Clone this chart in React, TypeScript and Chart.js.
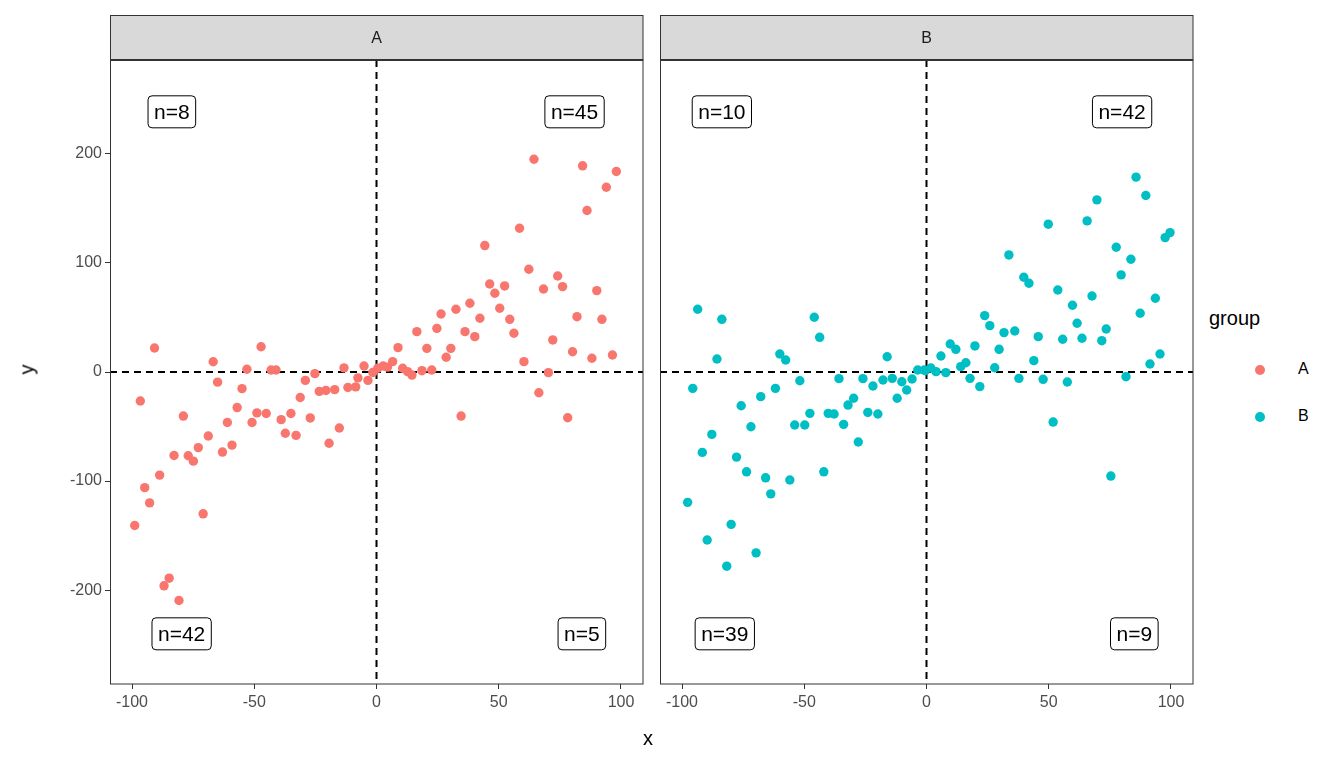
import React, { useEffect, useRef } from "react";
import { Chart, registerables } from "chart.js";
Chart.register(...registerables);

const xA = [-90.8,-96.6,-79.0,-66.8,-65.0,-53.0,-47.2,-43.1,-41.1,-55.0,-57.0,-61.0,-48.9,-45.1,-50.9,-39.0,-35.0,-37.3,-32.9,-29.1,-25.2,-31.2,-27.1,-23.4,-20.7,-17.1,-13.3,-19.4,-15.2,-11.7,-8.5,-5.1,-7.6,-3.5,-68.8,-72.9,-77.0,-74.9,-59.1,-63.0,-82.8,-88.7,-94.8,-92.8,-70.9,-98.9,-84.8,-86.9,-80.8,-1.5,
64.4,84.3,98.1,94.0,86.1,58.5,44.3,62.3,74.1,76.1,68.3,90.1,46.3,48.4,52.4,38.2,32.5,26.4,50.4,42.3,54.5,56.2,82.0,92.2,16.5,24.7,36.2,40.2,72.1,8.8,20.6,30.4,28.5,80.2,96.5,88.1,60.3,70.3,66.4,34.6,78.2,6.6,2.7,0.5,10.7,12.7,14.5,18.6,22.6,4.5];
const yA = [22,-26.6,-40.4,9.4,-9.3,2.5,23.1,1.8,1.8,-15.2,-32.6,-46.3,-37.5,-38,-46.3,-43.7,-38,-56.1,-58.1,-7.7,-1.5,-23.4,-42.1,-17.8,-16.9,-16.2,3.8,-65.3,-51.3,-14.2,-13.6,5.5,-5.4,-7.7,-58.7,-69.3,-76.8,-81.7,-67,-73.4,-76.5,-94.5,-106,-120,-130,-140.7,-189,-196,-209.5,-0.5,
195,189,183.8,169.4,148,131.8,115.9,94.2,88,78.3,76.1,74.6,80.7,72.2,78.9,63,57.5,53.2,58.4,49.3,48.3,35.5,50.7,48.3,37,40,37,32.4,29.4,22.3,21.7,21.7,13.5,18.6,15.6,12.6,9.5,-0.6,-19,-40.4,-41.9,9.5,5.5,3.4,3.4,0.3,-2.8,1.2,1.8,4.5];

const xB = [-93.6,-83.7,-85.7,-95.6,-45.9,-43.7,-60.0,-57.6,-51.8,-35.8,-26.0,-21.9,-17.8,-14.0,-16.1,-10.1,-8.1,-5.9,-12.0,-3.6,-0.9,-61.8,-67.8,-75.8,-71.8,-87.8,-91.7,-77.7,-73.6,-65.8,-63.7,-55.9,-47.7,-53.9,-49.8,-40.2,-37.8,-33.9,-32.1,-29.8,-24.0,-19.9,-27.9,-42.0,-97.7,-79.9,-89.7,-69.7,-81.7,
85.7,89.7,69.7,65.7,49.8,99.6,97.6,77.6,83.6,79.6,33.7,39.8,41.9,53.7,67.7,93.6,59.7,87.4,23.8,25.9,31.7,36.1,61.6,73.5,45.7,55.7,63.6,71.7,19.8,29.7,9.7,12.0,5.9,16.1,14.0,43.9,27.9,95.5,91.4,1.8,3.9,7.9,-0.5,17.8,21.8,37.8,47.7,57.6,81.6,51.8,75.4];
const yB = [57.5,48.3,11.9,-15,50.2,31.8,16.5,11,-8,-6.1,-6.1,-12.8,-7.3,-5.8,14,-8.9,-16.5,-6.4,-24.1,1.8,1.8,-15,-22.6,-30.9,-50.2,-57.2,-73.7,-78,-91.5,-97,-111.7,-99,-37.9,-48.6,-48.6,-37.9,-38.5,-48,-30.3,-24.1,-37,-38.5,-64.2,-91.5,-119.5,-139.7,-154,-165.8,-178,
178.6,161.8,157.8,138.5,135.5,127.8,123.2,114.4,103.4,89,107.3,86.9,81.4,75.2,69.7,67.6,61.2,53.9,51.7,42.5,36.1,37.6,44.7,39.4,32.4,30,30.9,28.7,23.9,20.8,25.7,20.8,14.7,8.5,4.9,10.4,3.9,16.5,7.3,3.7,0.3,-0.6,1.2,-5.8,-13.4,-5.8,-6.7,-9.2,-4.3,-45.9,-95.4];

const nLabelsA = ["n=8", "n=45", "n=42", "n=5"];
const nXA = [-83.7, 81, -79.7, 84];
const nLabelsB = ["n=10", "n=42", "n=39", "n=9"];
const nXB = [-83.7, 80, -82.5, 85];
const nY = [238.5, 238.5, -240, -240];
const xTicks = [-100, -50, 0, 50, 100];
const yTicks = [-200, -100, 0, 100, 200];

const FONT = "'Liberation Sans', Arial, sans-serif";

function rr(ctx: CanvasRenderingContext2D, x: number, y: number, w: number, h: number, r: number) {
  ctx.beginPath();
  ctx.moveTo(x + r, y);
  ctx.arcTo(x + w, y, x + w, y + h, r);
  ctx.arcTo(x + w, y + h, x, y + h, r);
  ctx.arcTo(x, y + h, x, y, r);
  ctx.arcTo(x, y, x + w, y, r);
  ctx.closePath();
}

function makePlugin(title: string, labels: string[], lx: number[]) {
  return {
    id: "facet" + title,
    beforeDatasetsDraw(chart: any) {
      const { ctx, chartArea: a, scales } = chart;
      ctx.save();
      ctx.strokeStyle = "#000";
      ctx.lineWidth = 2;
      ctx.setLineDash([7, 5]);
      const x0 = scales.x.getPixelForValue(0);
      const y0 = scales.y.getPixelForValue(0);
      ctx.beginPath();
      ctx.moveTo(x0, a.top); ctx.lineTo(x0, a.bottom);
      ctx.moveTo(a.left, y0); ctx.lineTo(a.right, y0);
      ctx.stroke();
      ctx.restore();
    },
    afterDatasetsDraw(chart: any) {
      const { ctx, chartArea: a, scales } = chart;
      ctx.save();
      ctx.font = `21px ${FONT}`;
      ctx.textAlign = "center";
      ctx.textBaseline = "middle";
      labels.forEach((t, i) => {
        const cx = scales.x.getPixelForValue(lx[i]);
        const cy = scales.y.getPixelForValue(nY[i]);
        const w = ctx.measureText(t).width + 12;
        const h = 32;
        rr(ctx, cx - w / 2, cy - h / 2, w, h, 4);
        ctx.fillStyle = "#fff";
        ctx.fill();
        ctx.strokeStyle = "#000";
        ctx.lineWidth = 1;
        ctx.stroke();
        ctx.fillStyle = "#000";
        ctx.fillText(t, cx, cy + 1);
      });
      ctx.strokeStyle = "#333";
      ctx.lineWidth = 1;
      ctx.strokeRect(a.left + 0.5, a.top, a.right - a.left - 0.5, a.bottom - a.top);
      ctx.fillStyle = "#d9d9d9";
      ctx.fillRect(a.left, 15, a.right - a.left, a.top - 15);
      ctx.strokeRect(a.left + 0.5, 15.5, a.right - a.left - 0.5, a.top - 15.5);
      ctx.beginPath();
      ctx.lineWidth = 2;
      ctx.moveTo(a.left, a.top); ctx.lineTo(a.right, a.top);
      ctx.stroke();
      ctx.fillStyle = "#1a1a1a";
      ctx.font = `16px ${FONT}`;
      ctx.fillText(title, (a.left + a.right) / 2, (15 + a.top) / 2 + 1);
      ctx.restore();
    },
  };
}

function Panel(props: { title: string; xs: number[]; ys: number[]; color: string; left: number; width: number; showY: boolean; labels: string[]; lx: number[] }) {
  const ref = useRef<HTMLCanvasElement>(null);
  useEffect(() => {
    const data = props.xs.map((x, i) => ({ x, y: props.ys[i] }));
    const tickFont = { family: FONT, size: 16 };
    const chart = new Chart(ref.current!, {
      type: "scatter",
      data: { datasets: [{ data, backgroundColor: props.color, borderWidth: 0, pointRadius: 4.7, pointHoverRadius: 4.7 }] },
      options: {
        animation: false,
        responsive: false,
        events: [],
        layout: { padding: { top: 60, right: 7, left: props.showY ? 0 : 10, bottom: 0 } },
        plugins: { legend: { display: false }, tooltip: { enabled: false } },
        scales: {
          x: {
            type: "linear", min: -109, max: 109,
            afterBuildTicks: (s: any) => { s.ticks = xTicks.map((v) => ({ value: v })); },
            afterFit: (s: any) => { s.height = 84; },
            grid: { drawOnChartArea: false, tickLength: 5, color: "#333" },
            border: { display: false },
            ticks: { color: "#4d4d4d", font: tickFont, padding: 4, maxRotation: 0 },
          },
          y: {
            type: "linear", min: -286, max: 286, display: props.showY,
            afterBuildTicks: (s: any) => { s.ticks = yTicks.map((v) => ({ value: v })); },
            afterFit: (s: any) => { s.width = props.showY ? 110 : 0; },
            grid: { drawOnChartArea: false, tickLength: 5, color: "#333" },
            border: { display: false },
            ticks: { color: "#4d4d4d", font: tickFont, padding: 3 },
          },
        },
      },
      plugins: [makePlugin(props.title, props.labels, props.lx)],
    } as any);
    return () => chart.destroy();
  }, []);
  return <canvas ref={ref} width={props.width} height={768} style={{ position: "absolute", left: props.left, top: 0, width: props.width, height: 768 }} />;
}

export default function App() {
  const txt: React.CSSProperties = { position: "absolute", fontFamily: FONT, color: "#000" };
  return (
    <div style={{ position: "absolute", left: 0, top: 0, width: 1344, height: 768, background: "#fff", overflow: "hidden" }}>
      <Panel title="A" xs={xA} ys={yA} color="#F8766D" left={0} width={650} showY={true} labels={nLabelsA} lx={nXA} />
      <Panel title="B" xs={xB} ys={yB} color="#00BFC4" left={650} width={550} showY={false} labels={nLabelsB} lx={nXB} />
      <div style={{ ...txt, left: 643, top: 727, fontSize: 20 }}>x</div>
      <div style={{ ...txt, left: 22, top: 358, fontSize: 20, transform: "rotate(-90deg)" }}>y</div>
      <div style={{ ...txt, left: 1209, top: 307, fontSize: 20 }}>group</div>
      <div style={{ position: "absolute", left: 1255, top: 365, width: 10, height: 10, borderRadius: 5, background: "#F8766D" }} />
      <div style={{ position: "absolute", left: 1255, top: 412, width: 10, height: 10, borderRadius: 5, background: "#00BFC4" }} />
      <div style={{ ...txt, left: 1298, top: 360, fontSize: 16 }}>A</div>
      <div style={{ ...txt, left: 1298, top: 407, fontSize: 16 }}>B</div>
    </div>
  );
}
